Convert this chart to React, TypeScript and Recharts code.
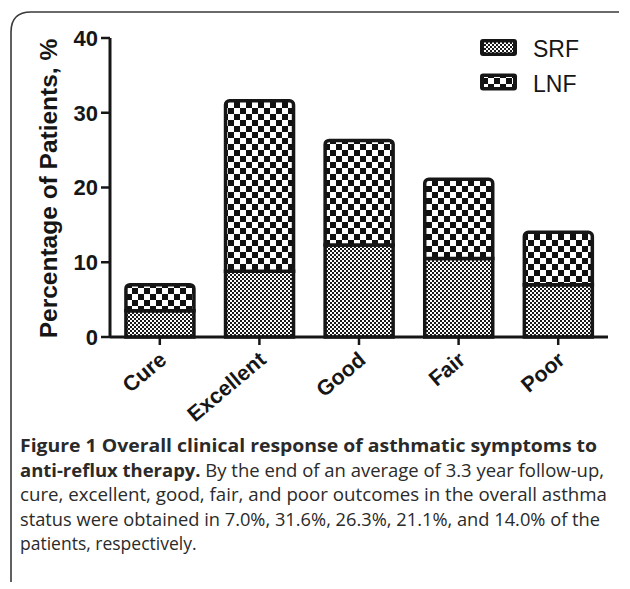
import React from 'react';
import { BarChart, Bar, XAxis, YAxis, Legend } from 'recharts';

const categories = ['Cure', 'Excellent', 'Good', 'Fair', 'Poor'];
const srfValues = [3.5, 8.8, 12.3, 10.5, 7.0];
const lnfValues = [3.5, 22.8, 14.0, 10.6, 7.0];
const yTicks = [0, 10, 20, 30, 40];
const seriesNames = ['SRF', 'LNF'];

const data = categories.map((c, i) => ({ name: c, SRF: srfValues[i], LNF: lnfValues[i] }));

const FONT = 'Arial, "Liberation Sans", Helvetica, sans-serif';
const INK = '#161616';

const XTick = (props: any) => {
  const { x, y, payload } = props;
  const ex = x + 8;
  const ey = y + 15;
  return (
    <text x={ex} y={ey} transform={`rotate(-40 ${ex} ${ey})`} textAnchor="end"
      fontFamily={FONT} fontWeight="bold" fontSize={21.5} fill={INK}>
      {payload.value}
    </text>
  );
};

const YLabel = (props: any) => {
  const vb = props.viewBox || { x: 0, y: 38, width: 110, height: 299 };
  const cx = 57;
  const cy = vb.y + vb.height / 2 + 1;
  return (
    <text x={cx} y={cy} transform={`rotate(-90 ${cx} ${cy})`} textAnchor="middle"
      fontFamily={FONT} fontWeight="bold" fontSize={24.5} fill={INK}>
      Percentage of Patients, %
    </text>
  );
};

const LegendContent = (props: any) => {
  const payload = props.payload || [];
  const items = seriesNames.map((n) => payload.find((p: any) => p.value === n || p.dataKey === n) || { value: n, dataKey: n });
  return (
    <svg width={150} height={72} style={{ display: 'block' }}>
      {items.map((it: any, i: number) => {
        const by = 9 + i * 34.5;
        const pid = it.dataKey === 'SRF' ? 'url(#patSRF)' : 'url(#patLNF)';
        return (
          <g key={String(it.value)}>
            <rect x={10} y={by} width={37} height={17} rx={3} fill={INK} />
            <rect x={14} y={by + 3.5} width={29} height={10} fill={pid} />
            <text x={63} y={by + 18} fontFamily={FONT} fontSize={23} fill={INK}>{it.value}</text>
          </g>
        );
      })}
    </svg>
  );
};

const captionLines = [
  { parts: [{ t: 'Figure 1 Overall clinical response of asthmatic symptoms to', b: true }], len: 577 },
  { parts: [{ t: 'anti-reflux therapy.', b: true }, { t: ' By the end of an average of 3.3 year follow-up,', b: false }], len: 584 },
  { parts: [{ t: 'cure, excellent, good, fair, and poor outcomes in the overall asthma', b: false }], len: 587 },
  { parts: [{ t: 'status were obtained in 7.0%, 31.6%, 26.3%, 21.1%, and 14.0% of the', b: false }], len: 580 },
  { parts: [{ t: 'patients, respectively.', b: false }], len: 0 },
];
const captionBaselines = [452, 476.5, 501, 525.5, 550];

export default function App() {
  return (
    <div style={{ position: 'relative', width: 630, height: 589, background: '#fff', overflow: 'hidden' }}>
      <style>{`body{margin:0;background:#fff}`}</style>
      <svg width={0} height={0} style={{ position: 'absolute' }}>
        <defs>
          <pattern id="patSRF" patternUnits="userSpaceOnUse" width={4} height={4}>
            <rect x={0} y={0} width={4} height={4} fill="#fff" />
            <rect x={0} y={0} width={2} height={2} fill="#1a1a1a" />
            <rect x={2} y={2} width={2} height={2} fill="#1a1a1a" />
          </pattern>
          <pattern id="patLNF" patternUnits="userSpaceOnUse" width={12} height={12}>
            <rect x={0} y={0} width={12} height={12} fill="#fff" />
            <rect x={0} y={0} width={6} height={6} fill="#111" />
            <rect x={6} y={6} width={6} height={6} fill="#111" />
          </pattern>
        </defs>
      </svg>
      <div style={{ position: 'absolute', left: 0, top: 0 }}>
        <BarChart width={630} height={589} data={data}
          margin={{ top: 38, right: 22, bottom: 222, left: 0 }} barCategoryGap="16%">
          <XAxis dataKey="name" height={30} interval={0}
            axisLine={{ stroke: INK, strokeWidth: 3 }}
            tickLine={{ stroke: INK, strokeWidth: 2.5 }} tickSize={8} tickMargin={2}
            tick={<XTick />} />
          <YAxis width={110} domain={[0, 40]} ticks={yTicks} interval={0}
            axisLine={{ stroke: INK, strokeWidth: 3 }}
            tickLine={{ stroke: INK, strokeWidth: 2.5 }} tickSize={9} tickMargin={3}
            tick={{ fontFamily: FONT, fontWeight: 'bold', fontSize: 22, fill: INK }}
            label={<YLabel />} />
          <Legend layout="horizontal" verticalAlign="middle" align="center"
            wrapperStyle={{ position: 'absolute', left: 470, top: 30, width: 150, height: 72 }}
            content={<LegendContent />} />
          <Bar dataKey="SRF" stackId="a" fill="url(#patSRF)" stroke={INK} strokeWidth={3.5}
            isAnimationActive={false} />
          <Bar dataKey="LNF" stackId="a" fill="url(#patLNF)" stroke={INK} strokeWidth={3.5}
            radius={[4, 4, 0, 0]} isAnimationActive={false} />
        </BarChart>
      </div>
      <svg width={630} height={589} style={{ position: 'absolute', left: 0, top: 0, pointerEvents: 'none' }}>
        <path d="M11,582 L11,32 Q11,12 31,12 L619,12" fill="none" stroke="#3a3a3a" strokeWidth={1.6} />
        {captionLines.map((ln, i) => (
          <text key={i} x={20} y={captionBaselines[i]} fontFamily='"Open Sans", "Noto Sans", sans-serif'
            fontSize={17.5} fill="#2a2a2a"
            {...(ln.len ? { textLength: ln.len, lengthAdjust: 'spacingAndGlyphs' } : {})}>
            {ln.parts.map((p, j) => (
              <tspan key={j} fontWeight={p.b ? 'bold' : 'normal'}>{p.t}</tspan>
            ))}
          </text>
        ))}
      </svg>
    </div>
  );
}
